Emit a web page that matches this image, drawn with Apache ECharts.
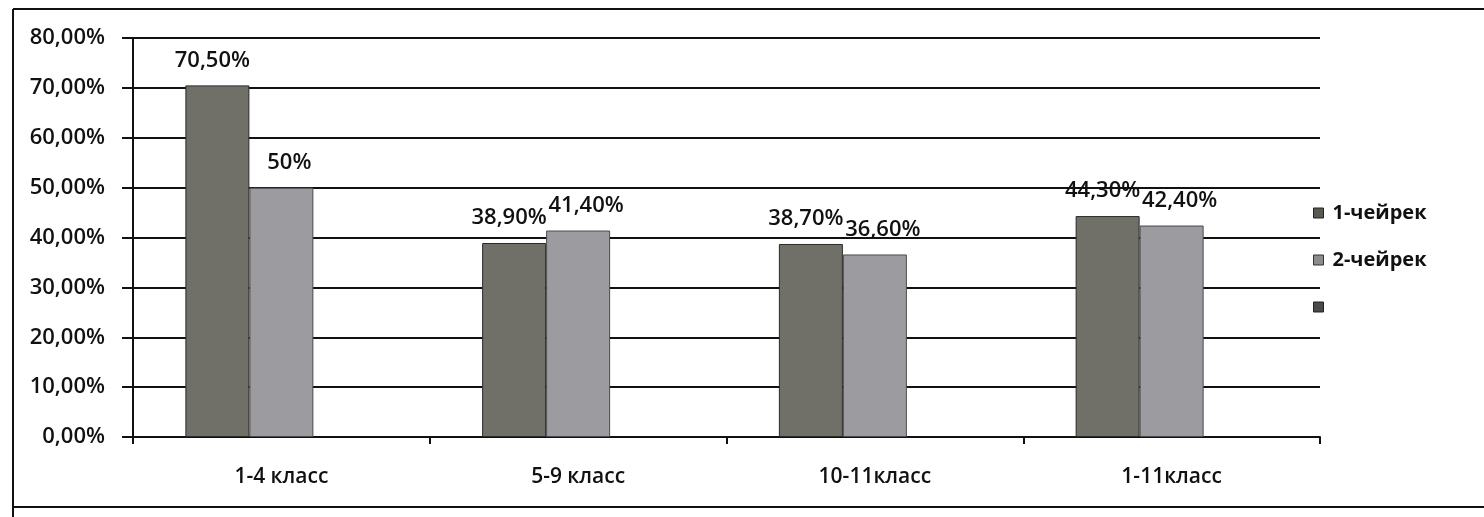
<!DOCTYPE html>
<html>
<head>
<meta charset="utf-8">
<script src="https://cdn.jsdelivr.net/npm/echarts@6/dist/echarts.min.js"></script>
<style>
html,body{margin:0;padding:0;background:#fff;}
#c{width:1484px;height:517px;}
</style>
</head>
<body>
<div id="c"></div>
<script>
var categories = ['1-4 класс', '5-9 класс', '10-11класс', '1-11класс'];
var series1Name = '1-чейрек';
var series2Name = '2-чейрек';
var series3Name = ' ';
var series1 = [70.5, 38.9, 38.7, 44.3];
var series2 = [50, 41.4, 36.6, 42.4];
var series3 = [null, null, null, null];
var labels1 = ['70,50%', '38,90%', '38,70%', '44,30%'];
var labels2 = ['50%', '41,40%', '36,60%', '42,40%'];
var yTicks = [0, 10, 20, 30, 40, 50, 60, 70, 80];

var FONT = '"Open Sans", "Liberation Sans", sans-serif';
var chart = echarts.init(document.getElementById('c'));
chart.setOption({
  backgroundColor: '#ffffff',
  animation: false,
  graphic: [
    {type: 'line', shape: {x1: 13, y1: 9, x2: 1484, y2: 9}, style: {stroke: '#111', lineWidth: 2}},
    {type: 'line', shape: {x1: 13, y1: 9, x2: 13, y2: 517}, style: {stroke: '#111', lineWidth: 2}},
    {type: 'line', shape: {x1: 13, y1: 507, x2: 1484, y2: 507}, style: {stroke: '#111', lineWidth: 2}}
  ],
  legend: {
    orient: 'vertical',
    left: 1308,
    top: 198,
    itemGap: 27,
    itemWidth: 10,
    itemHeight: 10,
    icon: 'rect',
    textStyle: {fontFamily: FONT, fontSize: 20, fontWeight: 'bold', color: '#111', padding: [0, 0, 0, 4]},
    data: [
      {name: series1Name, itemStyle: {color: '#5a5a52', borderColor: '#222', borderWidth: 1}},
      {name: series2Name, itemStyle: {color: '#8c8c8e', borderColor: '#333', borderWidth: 1}},
      {name: series3Name, itemStyle: {color: '#4a4a4a', borderColor: '#222', borderWidth: 1}}
    ]
  },
  grid: {left: 133, right: 164, top: 38, bottom: 80, containLabel: false},
  xAxis: {
    type: 'category',
    data: categories,
    axisLine: {lineStyle: {color: '#111', width: 2}},
    axisTick: {show: true, alignWithLabel: false, length: 7, lineStyle: {color: '#111', width: 2}},
    axisLabel: {fontFamily: FONT, fontSize: 21, fontWeight: 600, color: '#111', margin: 30}
  },
  yAxis: {
    type: 'value',
    min: 0,
    max: 80,
    interval: 10,
    axisLine: {show: true, lineStyle: {color: '#111', width: 2}},
    axisTick: {show: true, length: 11, lineStyle: {color: '#111', width: 2}},
    splitLine: {show: true, lineStyle: {color: '#111', width: 2}},
    axisLabel: {
      fontFamily: FONT, fontSize: 22, fontWeight: 600, color: '#111', margin: 28,
      formatter: function (v) { return yTicks.indexOf(v) >= 0 ? v.toFixed(2).replace('.', ',') + '%' : ''; }
    }
  },
  series: [
    {
      name: series1Name, type: 'bar', data: series1, barWidth: 64, barGap: '0%',
      itemStyle: {color: '#707068', borderColor: '#2a2a26', borderWidth: 1},
      label: {show: true, position: 'top', distance: 14, offset: [-5, 0], fontFamily: FONT, fontSize: 22, fontWeight: 600, color: '#111',
        formatter: function (p) { return labels1[p.dataIndex]; }}
    },
    {
      name: series2Name, type: 'bar', data: series2, barWidth: 64, barGap: '0%',
      itemStyle: {color: '#9c9ca0', borderColor: '#4a4a4e', borderWidth: 1},
      label: {show: true, position: 'top', distance: 14, offset: [8, 0], fontFamily: FONT, fontSize: 22, fontWeight: 600, color: '#111',
        formatter: function (p) { return labels2[p.dataIndex]; }}
    },
    {
      name: series3Name, type: 'bar', data: series3, barWidth: 64, barGap: '0%',
      itemStyle: {color: '#4a4a4a'}
    }
  ]
});
</script>
</body>
</html>
